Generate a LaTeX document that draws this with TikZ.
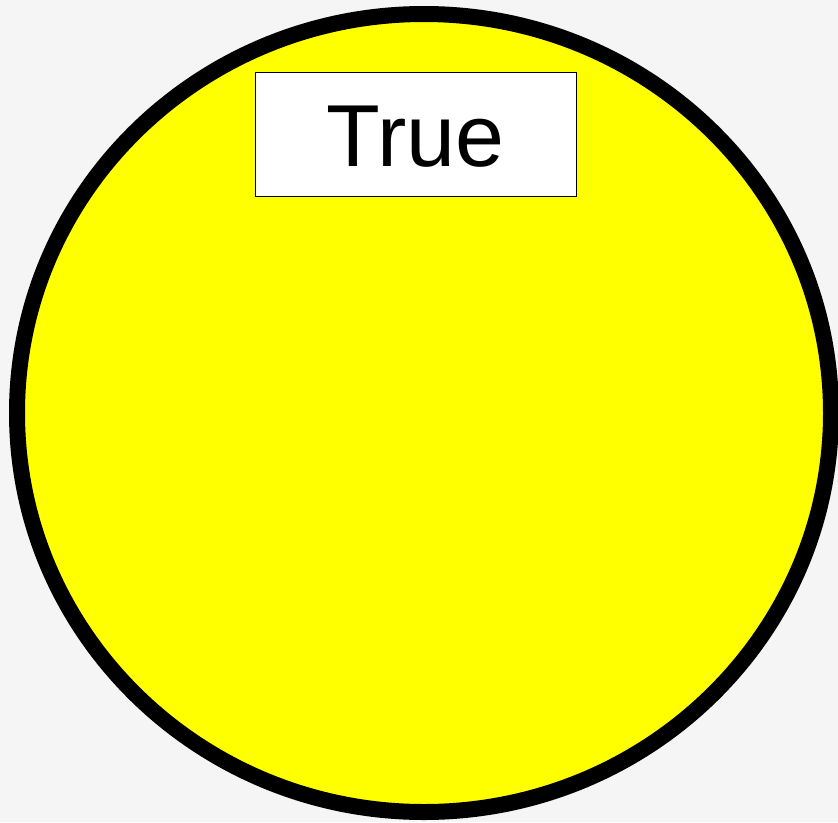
\documentclass[tikz,border=0pt]{standalone}
\usepackage{fontspec}
\setmainfont{Liberation Sans}
\definecolor{bgcol}{HTML}{F5F5F5}
\definecolor{sunyellow}{HTML}{FFFF00}
\begin{document}
\begin{tikzpicture}[x=1pt,y=-1pt,
  disc/.style={draw=black,fill=sunyellow,line width=16pt},
  labelbox/.style={draw=black,fill=white,line width=1.3pt},
  labeltext/.style={inner sep=0pt,anchor=base,font=\fontsize{88}{100}\selectfont}]
\fill[bgcol] (0,0) rectangle (838,822);
\useasboundingbox (0,0) rectangle (838,822);
\draw[disc] (424,413) ellipse [x radius=407, y radius=399];
\node[labelbox,minimum width=321pt,minimum height=124pt,inner sep=0pt] (box) at (415.8,134.5) {};
\node[labeltext] (lbl) at (415.8,166) {True};
\end{tikzpicture}
\end{document}
